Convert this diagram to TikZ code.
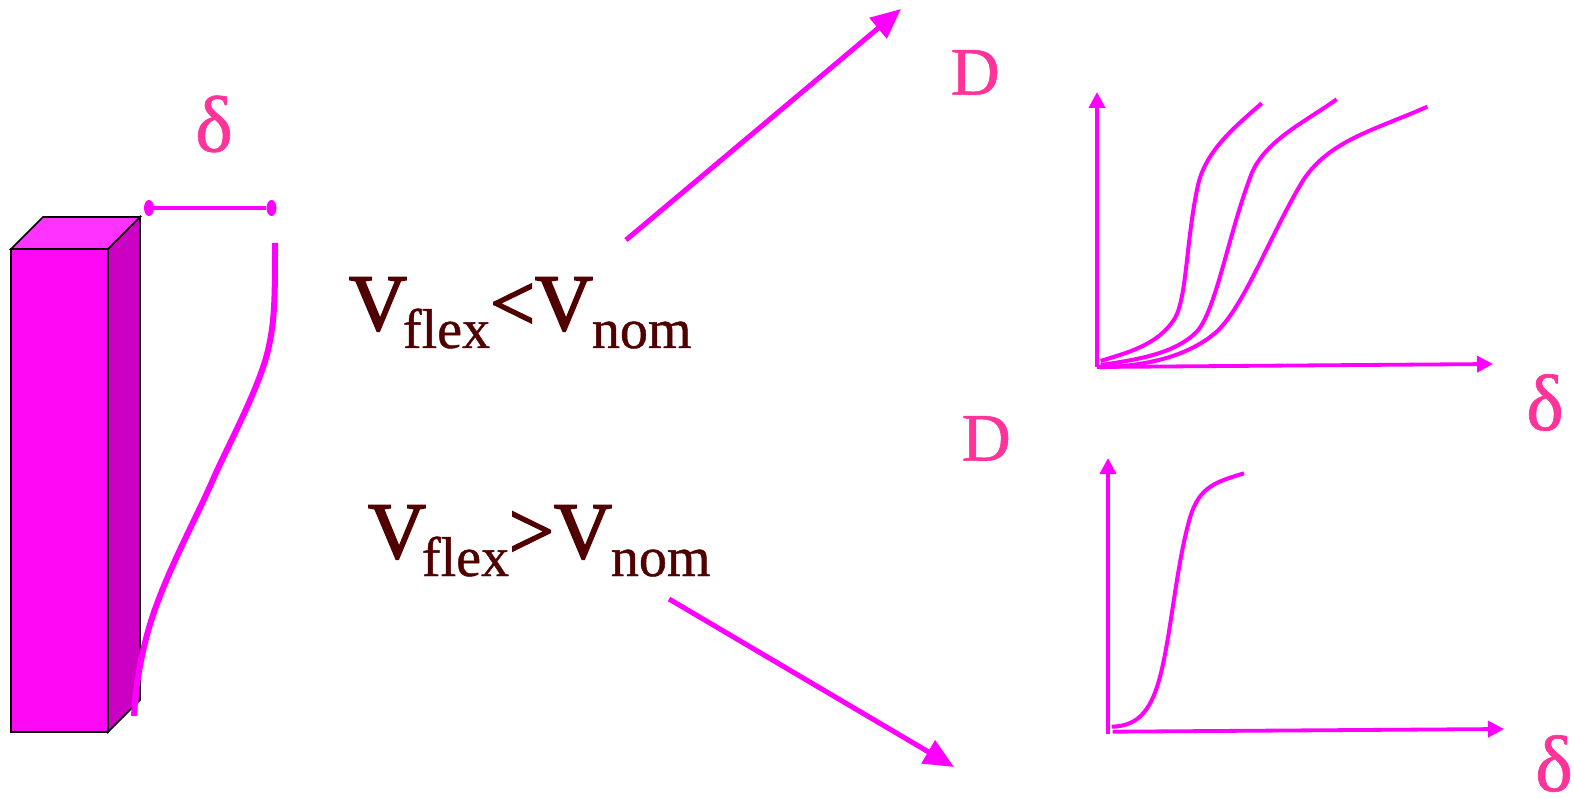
\documentclass[tikz,border=0pt]{standalone}
\usepackage{fontspec}
\setmainfont{Liberation Serif}
\newfontfamily\heavyfont[FakeBold=2.2]{Liberation Serif}
\newfontfamily\mediumfont[FakeBold=0.8]{Liberation Serif}
\usepackage{tikz}
\usetikzlibrary{arrows.meta, positioning}
\definecolor{flexmagenta}{RGB}{255, 0, 255}
\definecolor{facefront}{RGB}{255, 8, 245}
\definecolor{faceside}{RGB}{204, 0, 194}
\definecolor{facetop}{RGB}{255, 51, 255}
\definecolor{labelpink}{RGB}{255, 51, 153}
\definecolor{speedbrown}{RGB}{80, 0, 0}
\newcommand{\speedsub}[1]{\raisebox{-18pt}{\mediumfont\fontsize{56}{56}\selectfont #1}}
\newcommand{\speedlabel}[3]{V\kern-4pt\speedsub{#1}#2V\kern-1pt\speedsub{#3}}

\begin{document}
\begin{tikzpicture}[
    x=1pt, y=-1pt, node distance=20pt and 20pt,
    face/.style={draw=black, line width=1.6pt, line join=miter},
    axis/.style={draw=flexmagenta, line width=3.8pt, -{Triangle[length=16pt, width=16pt]}},
    curve/.style={draw=flexmagenta, line width=4pt},
    bentline/.style={draw=flexmagenta, line width=6pt},
    trend/.style={draw=flexmagenta, line width=5pt, -{Triangle[length=30pt, width=26pt]}},
    symbol/.style={inner sep=0pt, text=labelpink},
    speed/.style={inner sep=0pt, anchor=base west, text=speedbrown, font=\heavyfont\fontsize{80}{80}\selectfont},
    tickdot/.style={circle, fill=flexmagenta, inner sep=0pt, minimum size=10pt, yscale=1.6}
  ]
    \useasboundingbox (0,0) rectangle (1574,799);

    % column
    \filldraw[face, fill=facefront] (11,249) rectangle (108,732);
    \filldraw[face, fill=faceside] (108,249) -- (140,217) -- (140,700) -- (108,732) -- cycle;
    \filldraw[face, fill=facetop] (11,249) -- (43,217) -- (140,217) -- (108,249) -- cycle;

    % deflected shape
    \draw[bentline] (275,243) .. controls (275,300) and (275,325) .. (266,358) .. controls (255,395) and (232,438) .. (215,475) .. controls (198,515) and (170,565) .. (153,615) .. controls (143,645) and (136,680) .. (134,716);

    \node (tickl) [tickdot] at (149,208) {};
    \node (tickr) [tickdot] at (271.5,208) {};
    \draw[flexmagenta, line width=3.6pt] (tickl) -- (tickr);
    \node (dtop) [symbol, font=\mediumfont\fontsize{80}{80}\selectfont] at (214,124) {δ};

    % speed labels
    \node (vless) [speed] at (349,330) {\speedlabel{flex}{<}{nom}};
    \node (vmore) [speed] at (368,558) {\speedlabel{flex}{>}{nom}};

    \coordinate (upstart) at (626,240);
    \coordinate (uptip) at (901,9);
    \coordinate (downstart) at (669,599);
    \coordinate (downtip) at (954,767);
    \draw[trend] (upstart) -- (uptip);
    \draw[trend] (downstart) -- (downtip);

    % upper graph
    \coordinate (orga) at (1097,367);
    \coordinate (ytipa) at (1097,92);
    \coordinate (xtipa) at (1493,364);
    \draw[axis] (orga) -- (ytipa);
    \draw[axis] (orga) -- (xtipa);
    \draw[curve] (1100.7,361) .. controls (1125,353) and (1158,346) .. (1175,318) .. controls (1187,297) and (1186,240) .. (1198,185) .. controls (1206,150) and (1236,126) .. (1261.7,103.3);
    \draw[curve] (1100.7,365) .. controls (1135,360) and (1175,354) .. (1196.7,331.7) .. controls (1216,311) and (1228,235) .. (1251.7,173.3) .. controls (1266,140) and (1305,122) .. (1336.7,99.3);
    \draw[curve] (1100,367.3) .. controls (1150,366) and (1190,355) .. (1216.7,331.7) .. controls (1245,305) and (1270,235) .. (1303.3,180) .. controls (1330,140) and (1375,130) .. (1427.3,106.7);
    \node (da) [symbol, font=\mediumfont\fontsize{68}{68}\selectfont, above left=-3pt and 97pt of ytipa] {D};
    \node (dxa) [symbol, font=\mediumfont\fontsize{80}{80}\selectfont, below right=10pt and 33pt of xtipa] {δ};

    % lower graph
    \coordinate (orgb) at (1108,734);
    \coordinate (ytipb) at (1108,458);
    \coordinate (orgbx) at (1112.7,731.7);
    \coordinate (xtipb) at (1504,729);
    \draw[axis] (orgb) -- (ytipb);
    \draw[axis] (orgbx) -- (xtipb);
    \draw[curve] (1111.7,726.7) .. controls (1135,726) and (1150,715) .. (1160,676.7) .. controls (1170,640) and (1176,570) .. (1188,525) .. controls (1197,488) and (1212,483) .. (1244,473.3);
    \node (db) [symbol, font=\mediumfont\fontsize{68}{68}\selectfont, above left=-3pt and 97pt of ytipb] {D};
    \node (dxb) [symbol, font=\mediumfont\fontsize{80}{80}\selectfont, below right=6pt and 31pt of xtipb] {δ};
  \end{tikzpicture}
\end{document}
